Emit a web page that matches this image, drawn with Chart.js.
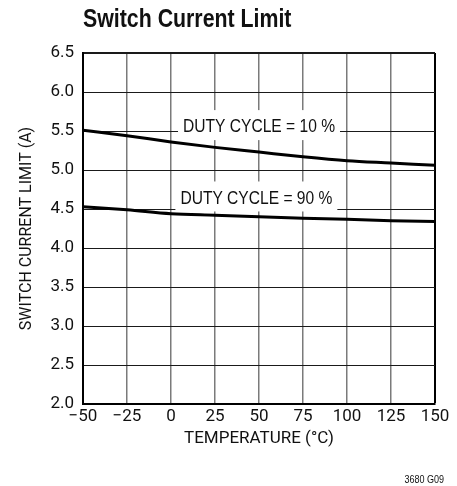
<!DOCTYPE html>
<html>
<head>
<meta charset="utf-8">
<script src="https://cdn.jsdelivr.net/npm/chart.js@4.4.1/dist/chart.umd.min.js"></script>
<style>
  html, body { margin: 0; padding: 0; background: #ffffff; }
  canvas { display: block; }
</style>
</head>
<body>
<canvas id="chart" width="457" height="486"></canvas>
<script>
const FONT = 'Roboto, "Liberation Sans", sans-serif';
const NARROW = '"Liberation Sans", Arial, sans-serif';
const SQUEEZE = 0.82;

const temperatures = [-50, -25, 0, 25, 50, 75, 100, 125, 150];
const duty10 = [5.51, 5.44, 5.36, 5.29, 5.23, 5.17, 5.12, 5.09, 5.06];
const duty90 = [4.53, 4.49, 4.44, 4.42, 4.40, 4.38, 4.37, 4.35, 4.34];
const seriesLabels = ['DUTY CYCLE = 10 %', 'DUTY CYCLE = 90 %'];
const xTicks = [-50, -25, 0, 25, 50, 75, 100, 125, 150];
const yTicks = [2.0, 2.5, 3.0, 3.5, 4.0, 4.5, 5.0, 5.5, 6.0, 6.5];

const toPoints = (ys) => temperatures.map((t, i) => ({ x: t, y: ys[i] }));

// draw text squeezed horizontally, to imitate a condensed face
function narrowText(ctx, text, x, y, align) {
  ctx.save();
  ctx.translate(x, y);
  ctx.scale(SQUEEZE, 1);
  ctx.textAlign = align;
  ctx.fillText(text, 0, 0);
  ctx.restore();
}

// text labels sitting in white boxes over the grid
const curveLabelPlugin = {
  id: 'curveLabels',
  beforeDatasetsDraw(chart, _args, options) {
    const { ctx, scales } = chart;
    ctx.save();
    ctx.font = `19px ${NARROW}`;
    ctx.textBaseline = 'middle';
    options.items.forEach((item) => {
      const cx = scales.x.getPixelForValue(item.x);
      const cy = scales.y.getPixelForValue(item.y);
      const w = ctx.measureText(item.text).width * SQUEEZE;
      ctx.fillStyle = '#ffffff';
      ctx.fillRect(cx - w / 2 - 5, cy - 17, w + 10, 30);
      ctx.fillStyle = '#111111';
      narrowText(ctx, item.text, cx, cy, 'center');
    });
    ctx.restore();
  },
  afterDraw(chart) {
    const { ctx, chartArea } = chart;
    ctx.save();
    ctx.fillStyle = '#111111';
    ctx.textBaseline = 'alphabetic';
    ctx.font = `bold 26px ${NARROW}`;
    narrowText(ctx, 'Switch Current Limit', chartArea.left, 27, 'left');
    ctx.font = `11px ${NARROW}`;
    narrowText(ctx, '3680 G09', 444, 483, 'right');
    ctx.restore();
  },
};

new Chart(document.getElementById('chart'), {
  type: 'line',
  data: {
    datasets: [
      { label: seriesLabels[0], data: toPoints(duty10) },
      { label: seriesLabels[1], data: toPoints(duty90) },
    ].map((ds) => ({
      ...ds,
      borderColor: '#000000',
      borderWidth: 3,
      pointRadius: 0,
      fill: false,
      cubicInterpolationMode: 'monotone',
    })),
  },
  plugins: [curveLabelPlugin],
  options: {
    responsive: false,
    devicePixelRatio: 1,
    animation: false,
    layout: { padding: { top: 53, right: 22, bottom: 36, left: 0 } },
    plugins: {
      legend: { display: false },
      tooltip: { enabled: false },
      curveLabels: {
        items: [
          { text: seriesLabels[0], x: 50, y: 5.55 },
          { text: seriesLabels[1], x: 48.5, y: 4.635 },
        ],
      },
    },
    scales: {
      x: {
        type: 'linear',
        min: -50,
        max: 150,
        afterBuildTicks: (s) => { s.ticks = xTicks.map((v) => ({ value: v })); },
        afterFit: (s) => { s.height = 46; },
        grid: {
          drawTicks: false,
          color: (c) => (c.tick && c.tick.value === 150 ? '#000000' : '#7a7a7a'),
          lineWidth: (c) => (c.tick && c.tick.value === 150 ? 2 : 1.5),
        },
        border: { display: true, color: '#000000', width: 2 },
        ticks: {
          padding: 3,
          color: '#111111',
          font: { family: FONT, size: 17 },
          maxRotation: 0,
          autoSkip: false,
          callback: (v) => (v < 0 ? '\u2212' + Math.abs(v) : String(v)),
        },
        title: {
          display: true,
          text: 'TEMPERATURE (°C)',
          color: '#111111',
          font: { family: FONT, size: 17 },
          padding: { top: 0, bottom: 1 },
        },
      },
      y: {
        type: 'linear',
        min: 2,
        max: 6.5,
        afterBuildTicks: (s) => { s.ticks = yTicks.map((v) => ({ value: v })); },
        afterFit: (s) => { s.width = 83; },
        grid: {
          drawTicks: false,
          color: '#1a1a1a',
          lineWidth: (c) => (c.tick && c.tick.value === 6.5 ? 2 : 1),
        },
        border: { display: true, color: '#000000', width: 2 },
        ticks: {
          padding: 9,
          color: '#111111',
          font: { family: FONT, size: 17 },
          callback: (v) => Number(v).toFixed(1),
        },
        title: {
          display: true,
          text: 'SWITCH CURRENT LIMIT (A)',
          color: '#111111',
          font: { family: FONT, size: 16 },
          padding: { top: 17, bottom: 0 },
        },
      },
    },
  },
});
</script>
</body>
</html>
